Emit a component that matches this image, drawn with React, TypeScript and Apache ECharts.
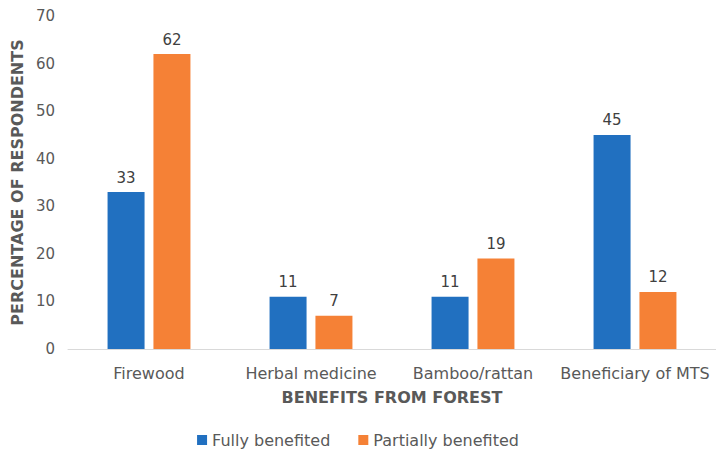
import React, { useEffect, useRef } from "react";
import * as echarts from "echarts";

const categories = ["Firewood", "Herbal medicine", "Bamboo/rattan", "Beneficiary of MTS"];
const fullyBenefited = [33, 11, 11, 45];
const partiallyBenefited = [62, 7, 19, 12];
const seriesNames = ["Fully benefited", "Partially benefited"];

const FONT = "DejaVu Sans, Verdana, sans-serif";

export default function App() {
  const ref = useRef<HTMLDivElement>(null);
  useEffect(() => {
    if (!ref.current) return;
    const chart = echarts.init(ref.current, null, { renderer: "svg" });
    const label = {
      show: true,
      position: "top" as const,
      distance: 7,
      color: "#404040",
      fontSize: 15,
      fontFamily: FONT,
    };
    chart.setOption({
      animation: false,
      textStyle: { fontFamily: FONT },
      grid: { left: 68, right: 0, top: 16, bottom: 100, containLabel: false },
      legend: {
        top: 427,
        left: "center",
        itemWidth: 10,
        itemHeight: 10,
        itemGap: 28,
        itemTextGap: 5,
        icon: "rect",
        textStyle: { color: "#595959", fontSize: 16, fontFamily: FONT },
        data: seriesNames,
      },
      xAxis: {
        type: "category",
        data: categories,
        name: "BENEFITS FROM FOREST",
        nameLocation: "middle",
        nameGap: 40,
        nameTextStyle: { color: "#595959", fontSize: 16, fontWeight: "bold", fontFamily: FONT },
        axisLine: { lineStyle: { color: "#D9D9D9", width: 1 } },
        axisTick: { show: false },
        axisLabel: { color: "#595959", fontSize: 16, margin: 16, interval: 0, fontFamily: FONT },
      },
      yAxis: {
        type: "value",
        min: 0,
        max: 70,
        interval: 10,
        name: "PERCENTAGE OF RESPONDENTS",
        nameLocation: "middle",
        nameGap: 40,
        nameRotate: 90,
        nameTextStyle: { color: "#595959", fontSize: 16, fontWeight: "bold", fontFamily: FONT },
        axisLine: { show: false },
        axisTick: { show: false },
        splitLine: { show: false },
        axisLabel: { color: "#595959", fontSize: 15, margin: 13, fontFamily: FONT },
      },
      series: [
        {
          name: seriesNames[0],
          type: "bar",
          data: fullyBenefited,
          barWidth: 37,
          barGap: "24%",
          itemStyle: { color: "#2170C0" },
          label,
        },
        {
          name: seriesNames[1],
          type: "bar",
          data: partiallyBenefited,
          barWidth: 37,
          barGap: "24%",
          itemStyle: { color: "#F58136" },
          label,
        },
      ],
    });
    return () => chart.dispose();
  }, []);
  return (
    <div
      ref={ref}
      style={{ position: "absolute", left: 0, top: 0, width: 716, height: 449 }}
    />
  );
}
